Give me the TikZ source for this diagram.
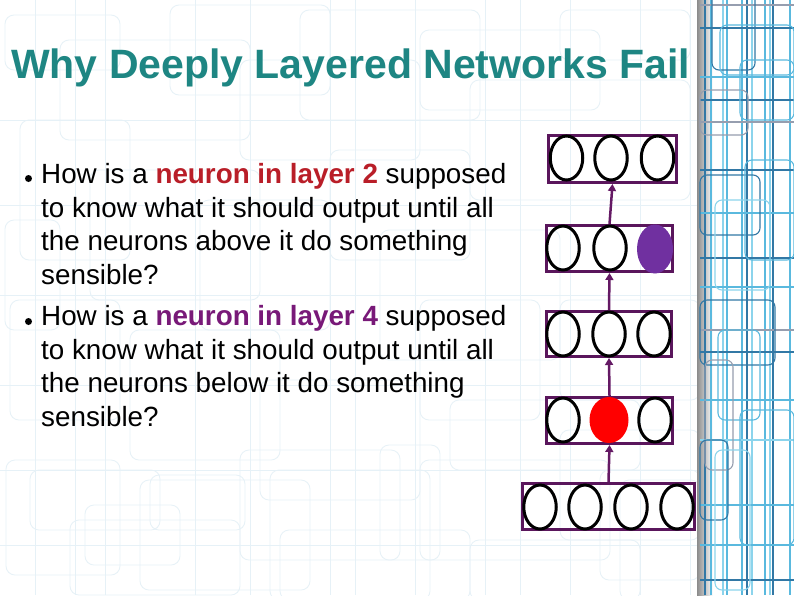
\documentclass[tikz,border=0pt]{standalone}
\usepackage{fontspec}
\setmainfont{Liberation Sans}
\usetikzlibrary{shapes.geometric,arrows.meta}
\definecolor{titlecol}{RGB}{30,134,131}
\definecolor{redtxt}{RGB}{185,30,40}
\definecolor{purtxt}{RGB}{120,25,120}
\definecolor{boxcol}{RGB}{90,22,92}
\definecolor{arrcol}{RGB}{100,25,100}
\definecolor{purfill}{RGB}{112,48,160}
\definecolor{bgline}{RGB}{230,241,247}
\definecolor{decoA}{RGB}{90,185,222}
\definecolor{decoB}{RGB}{50,120,165}
\definecolor{decoC}{RGB}{150,158,175}
\definecolor{decoD}{RGB}{140,212,236}
\begin{document}
\begin{tikzpicture}[x=1pt,y=-1pt,
  layerbox/.style={draw=boxcol,line width=3pt,rectangle,inner sep=0pt},
  neuron/.style={draw=black,line width=3pt,ellipse,minimum width=32.5pt,minimum height=44pt,inner sep=0pt},
  conn/.style={draw=arrcol,line width=2.5pt,-{Triangle[width=8pt,length=7pt]}},
  body/.style={anchor=base west,inner sep=0pt,font=\fontsize{27.8}{32}\selectfont},
  dot/.style={circle,fill=black,inner sep=0pt,minimum size=7pt},
  bgrect/.style={draw=bgline,line width=0.8pt,rounded corners=9pt},
  deco/.style={line width=1.1pt,rounded corners=7pt},
]
\useasboundingbox (0,0) rectangle (794,595);
\fill[white] (0,0) rectangle (794,595);
% faint background pattern
\foreach \a/\b/\c/\d in {
  5/15/120/70, 60/40/250/140, 170/5/330/95, 240/60/420/160, 300/10/480/120,
  420/30/600/110, 470/80/690/200, 560/10/690/60, 20/120/130/260, 90/170/260/300,
  200/200/330/330, 330/150/470/260, 380/230/560/360, 10/300/120/420, 130/330/280/460,
  260/380/420/500, 420/300/540/420, 6/460/120/575, 30/470/160/530, 70/520/240/595,
  150/475/245/530, 85/505/180/565, 140/480/310/590, 240/450/400/560, 280/530/470/600,
  270/470/430/600, 380/445/440/560, 420/460/610/560, 560/430/700/540, 600/470/700/580,
  470/540/640/600, 620/480/700/600, 450/400/640/470, 560/300/700/400, 5/220/60/330}
  {\draw[bgrect] (\a,\b) rectangle (\c,\d);}
\foreach \x in {35,75,105,195,250,330,355,415,485,520,570,640,690}
  {\draw[bgline,line width=0.6pt] (\x,0) -- (\x,595);}
\foreach \y in {120,205,295,385,470,545}
  {\draw[bgline,line width=0.6pt] (0,\y) -- (700,\y);}
% right decorative strip
\begin{scope}
\clip (697,0) rectangle (794,595);
\shade[left color=black!45,right color=white] (697,0) rectangle (713,595);
\foreach \x/\c in {705/decoB,711/decoA,723/decoD,727/decoA,742/decoA,747/decoB,752/decoD,765/decoA,770/decoD,773/decoB,790/decoA}
  {\draw[\c,line width=1.1pt] (\x,0) -- (\x,595);}
\foreach \y/\c in {5/decoC,28/decoB,77/decoA,100/decoB,122/decoC,170/decoB,213/decoA,258/decoB,287/decoA,
  330/decoC,352/decoB,400/decoA,440/decoD,505/decoA,545/decoA,580/decoB}
  {\draw[\c,line width=1.1pt] (700,\y) -- (794,\y);}
\draw[deco,decoB] (712,-10) rectangle (755,70);
\draw[deco,decoA] (720,25) rectangle (794,75);
\draw[deco,decoC] (700,90) rectangle (748,135);
\draw[deco,decoA] (740,60) rectangle (794,120);
\draw[deco,decoB] (700,175) rectangle (760,235);
\draw[deco,decoA] (745,160) rectangle (794,260);
\draw[deco,decoD] (715,200) rectangle (770,290);
\draw[deco,decoB] (700,300) rectangle (775,365);
\draw[deco,decoA] (718,330) rectangle (760,420);
\draw[deco,decoC] (705,360) rectangle (733,470);
\draw[deco,decoA] (740,410) rectangle (794,545);
\draw[deco,decoB] (700,440) rectangle (728,520);
\draw[deco,decoD] (715,450) rectangle (750,590);
\end{scope}
% title
\node[anchor=base west,inner sep=0pt,text=titlecol,font=\fontsize{41}{46}\selectfont\bfseries] (title) at (11,78) {Why Deeply Layered Networks Fail};
% bullets
\node[dot] (d1) at (28.5,178.5) {};
\node[dot] (d2) at (28.5,321.5) {};
\node[body] (l1) at (41,183) {How is a \textcolor{redtxt}{\bfseries neuron in layer 2} supposed};
\node[body] (l2) at (41,217) {to know what it should output until all};
\node[body] (l3) at (41,250) {the neurons above it do something};
\node[body] (l4) at (41,284) {sensible?};
\node[body] (l5) at (41,325) {How is a \textcolor{purtxt}{\bfseries neuron in layer 4} supposed};
\node[body] (l6) at (41,359) {to know what it should output until all};
\node[body] (l7) at (41,392) {the neurons below it do something};
\node[body] (l8) at (41,426) {sensible?};
% layers
\node[layerbox,minimum width=128pt,minimum height=47pt] (b1) at (612.5,159) {};
\node[layerbox,minimum width=126pt,minimum height=46pt] (b2) at (609.5,248.5) {};
\node[layerbox,minimum width=125pt,minimum height=45pt] (b3) at (609,334) {};
\node[layerbox,minimum width=126pt,minimum height=46pt] (b4) at (609.5,420.5) {};
\node[layerbox,minimum width=172pt,minimum height=46pt] (b5) at (608.5,506.5) {};
\node[neuron] (n11) at (566.5,158) {};
\node[neuron] (n12) at (611,158) {};
\node[neuron] (n13) at (657.5,158) {};
\node[neuron] (n21) at (563,248) {};
\node[neuron] (n22) at (610,248) {};
\node[neuron,draw=none,fill=purfill,minimum width=36pt,minimum height=49pt] (n23) at (655,249) {};
\node[neuron] (n31) at (563,334) {};
\node[neuron] (n32) at (609,334) {};
\node[neuron] (n33) at (654,334) {};
\node[neuron] (n41) at (563,420) {};
\node[neuron,draw=none,fill=red,minimum width=39pt,minimum height=46pt] (n42) at (609,420) {};
\node[neuron] (n43) at (655,420) {};
\node[neuron] (n51) at (540,507) {};
\node[neuron] (n52) at (585,507) {};
\node[neuron] (n53) at (631,507) {};
\node[neuron] (n54) at (677,507) {};
% connectors
\draw[conn] (b2.north) -- (b1.south);
\draw[conn] (b3.north) -- (b2.south);
\draw[conn] (b4.north) -- (b3.south);
\draw[conn] (b5.north) -- (b4.south);
\end{tikzpicture}
\end{document}
